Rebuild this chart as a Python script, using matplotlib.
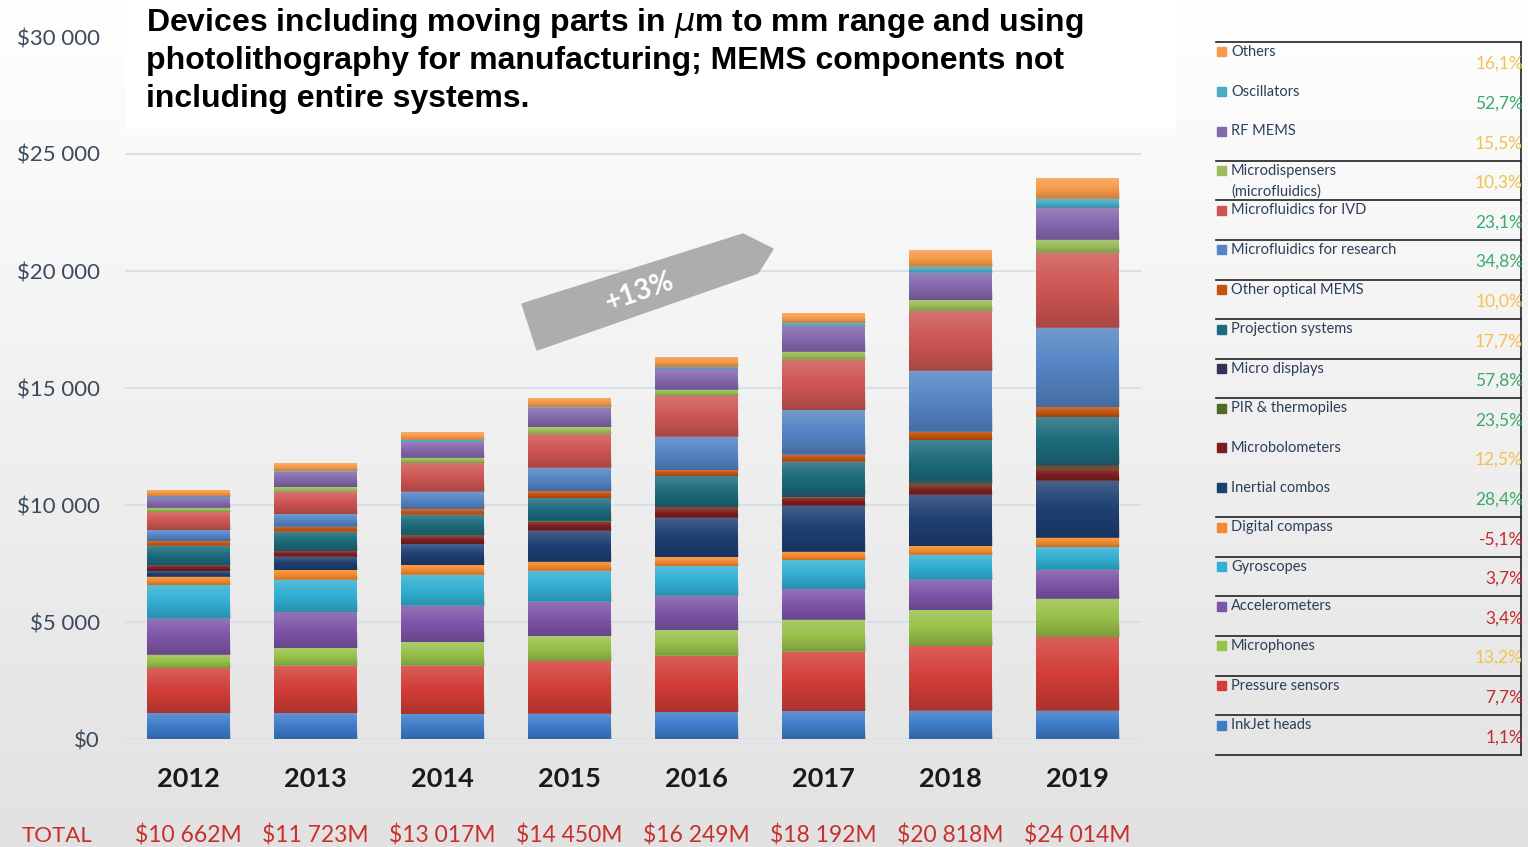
import numpy as np
import matplotlib.pyplot as plt
from matplotlib.patches import Rectangle, Polygon
from matplotlib.transforms import blended_transform_factory

years = ['2012', '2013', '2014', '2015', '2016', '2017', '2018', '2019']
totals = ['$10 662M', '$11 723M', '$13 017M', '$14 450M',
          '$16 249M', '$18 192M', '$20 818M', '$24 014M']

# $M per segment, stacked from bottom (InkJet heads) to top (Others)
inkjet = [1111, 1111, 1068, 1083, 1140, 1182, 1206, 1206]
pressure = [1923, 2023, 2066, 2237, 2422, 2522, 2766, 3136]
microphones = [570, 755, 997, 1068, 1111, 1396, 1528, 1640]
accelerometers = [1539, 1524, 1567, 1453, 1453, 1311, 1302, 1254]
gyroscopes = [1425, 1396, 1325, 1325, 1282, 1225, 1077, 965]
digital_compass = [359, 399, 427, 385, 370, 342, 354, 402]
inertial_combos = [240, 556, 883, 1325, 1667, 1966, 2187, 2444]
microbolometers = [214, 256, 328, 385, 427, 356, 418, 531]
pir_thermopiles = [30, 35, 40, 45, 55, 60, 96, 110]
micro_displays = [12, 15, 20, 30, 40, 50, 60, 80]
projection = [842, 784, 855, 969, 1282, 1425, 1769, 2000]
other_optical = [184, 214, 256, 285, 242, 313, 354, 402]
mf_research = [470, 541, 741, 997, 1425, 1895, 2621, 3377]
mf_ivd = [769, 954, 1211, 1453, 1724, 2137, 2573, 3216]
microdispensers = [188, 185, 214, 285, 271, 356, 434, 563]
rf_mems = [470, 670, 684, 826, 897, 1125, 1174, 1367]
oscillators = [50, 40, 100, 40, 71, 128, 273, 402]
others = [260, 329, 328, 399, 456, 427, 691, 884]

# legend, top to bottom
names = ['Others', 'Oscillators', 'RF MEMS', 'Microdispensers\n(microfluidics)',
         'Microfluidics for IVD', 'Microfluidics for research', 'Other optical MEMS',
         'Projection systems', 'Micro displays', 'PIR & thermopiles', 'Microbolometers',
         'Inertial combos', 'Digital compass', 'Gyroscopes', 'Accelerometers',
         'Microphones', 'Pressure sensors', 'InkJet heads']
cagr = [16.1, 52.7, 15.5, 10.3, 23.1, 34.8, 10.0, 17.7, 57.8, 23.5, 12.5, 28.4,
        -5.1, 3.7, 3.4, 13.2, 7.7, 1.1]
colors = ['#F79A4A', '#4BACC6', '#8468AC', '#9BBB59', '#CD5552', '#5484C4', '#C25411',
          '#1D6B7C', '#3A2E55', '#4F6A22', '#7A1E1E', '#1E3F72', '#F5892C', '#32AFD2',
          '#7E55A8', '#98C04A', '#D23D37', '#3D7CC9']
series = [others, oscillators, rf_mems, microdispensers, mf_ivd, mf_research,
          other_optical, projection, micro_displays, pir_thermopiles, microbolometers,
          inertial_combos, digital_compass, gyroscopes, accelerometers, microphones,
          pressure, inkjet]
title_lines = ['Devices including moving parts in $\\mu$m to mm range and using',
               'photolithography for manufacturing; MEMS components not',
               'including entire systems.']

W, H = 1528, 847
fig = plt.figure(figsize=(W / 100, H / 100), dpi=100)

# background gradient
bg = fig.add_axes([0, 0, 1, 1], zorder=0)
g = np.linspace(1.0, 0.885, 256)
bg.imshow(np.stack([g, g, g], axis=-1)[:, None, :].repeat(2, axis=1), aspect='auto',
          extent=[0, 1, 0, 1], interpolation='bilinear')
bg.set_axis_off()

ax = fig.add_axes([125 / W, (H - 739) / H, 1016 / W, 702 / H], zorder=1)
ax.patch.set_visible(False)
x = np.arange(len(years))
bottom = np.zeros(len(years))
grad = np.zeros((64, 1, 4))
t = np.linspace(0, 1, 64)
grad[:, 0, :3] = np.where(t[:, None] < 0.5, 1.0, 0.0)
grad[:, 0, 3] = np.abs(t - 0.5) * 0.36
for vals, col in zip(series[::-1], colors[::-1]):
    bars = ax.bar(x, vals, 0.66, bottom=bottom, color=col, zorder=3)
    for p in bars:
        ax.imshow(grad, extent=[p.get_x(), p.get_x() + p.get_width(), p.get_y(),
                                p.get_y() + p.get_height()],
                  aspect='auto', interpolation='bilinear', zorder=3.5)
    bottom += np.array(vals)

ax.set_xlim(-0.5, 7.5)
ax.set_ylim(0, 30000)
ax.set_yticks(np.arange(0, 30001, 5000))
ax.set_yticklabels(['$' + f'{v:,}'.replace(',', ' ') for v in range(0, 30001, 5000)],
                   fontsize=16, color='#3B4A5C', family='Lato')
ax.set_xticks(x)
ax.set_xticklabels(years, fontsize=19.5, fontweight='bold', color='#1A1A1A', family='Lato')
ax.tick_params(axis='y', length=0, pad=18)
ax.tick_params(axis='x', length=0, pad=20)
ax.grid(axis='y', color='#D3DEEA', lw=1.2, zorder=0)
for s in ax.spines.values():
    s.set_visible(False)

tr = blended_transform_factory(ax.transData, ax.transAxes)
for xi, tot in zip(x, totals):
    ax.text(xi, -0.138, tot, transform=tr, ha='center', va='center', fontsize=16.5,
            color='#C8302C', family='Lato')

# overlay in pixel coordinates
ov = fig.add_axes([0, 0, 1, 1], zorder=2)
ov.set_xlim(0, W)
ov.set_ylim(H, 0)
ov.set_axis_off()
ov.patch.set_visible(False)

ov.text(22, 836, 'TOTAL', ha='left', va='center', fontsize=16, color='#C8302C', family='Lato')

ov.add_patch(Rectangle((126, 0), 1049, 128, color='white', zorder=1))
for i, line in enumerate(title_lines):
    ov.text(146, 23 + 38 * i, line, ha='left', va='center', fontsize=23,
            fontweight='bold', family='Liberation Sans', color='black', zorder=2)

ov.add_patch(Polygon([(522, 304), (743, 234), (773, 249), (758, 273), (537, 350)],
                     closed=True, color='#ADADAD', zorder=2))
ov.text(640, 292, '+13%', rotation=19, ha='center', va='center', fontsize=20,
        fontweight='bold', color='white', family='Lato', zorder=3)

# legend table
groups_start = [0, 3, 4, 5, 6, 7, 8, 9, 12, 13, 14, 15, 16, 17, 18]
for i in groups_start:
    y = 42 + 39.6 * i
    ov.plot([1216, 1521], [y, y], color='#222222', lw=1.2, zorder=2)
ov.plot([1521, 1521], [42, 42 + 39.6 * 18], color='#222222', lw=1.2, zorder=2)
for i, (name, c, col) in enumerate(zip(names, cagr, colors)):
    yc = 52 + 39.6 * i
    ov.add_patch(Rectangle((1217, yc - 4.5), 9, 9, color=col, zorder=2))
    ov.text(1231, yc, name.split('\n')[0], ha='left', va='center', fontsize=10.5,
            color='#2C3E58', family='Lato', zorder=2)
    if '\n' in name:
        ov.text(1231, yc + 21, name.split('\n')[1], ha='left', va='center', fontsize=10.5,
                color='#2C3E58', family='Lato', zorder=2)
    pc = '#3DAA6A' if c >= 20 else ('#F2C14E' if c >= 10 else '#C42A2F')
    ov.text(1523, yc + 12, f'{c:.1f}%'.replace('.', ','), ha='right', va='center',
            fontsize=12.5, color=pc, family='Lato', zorder=2)

fig.savefig('out.png', dpi=100)
